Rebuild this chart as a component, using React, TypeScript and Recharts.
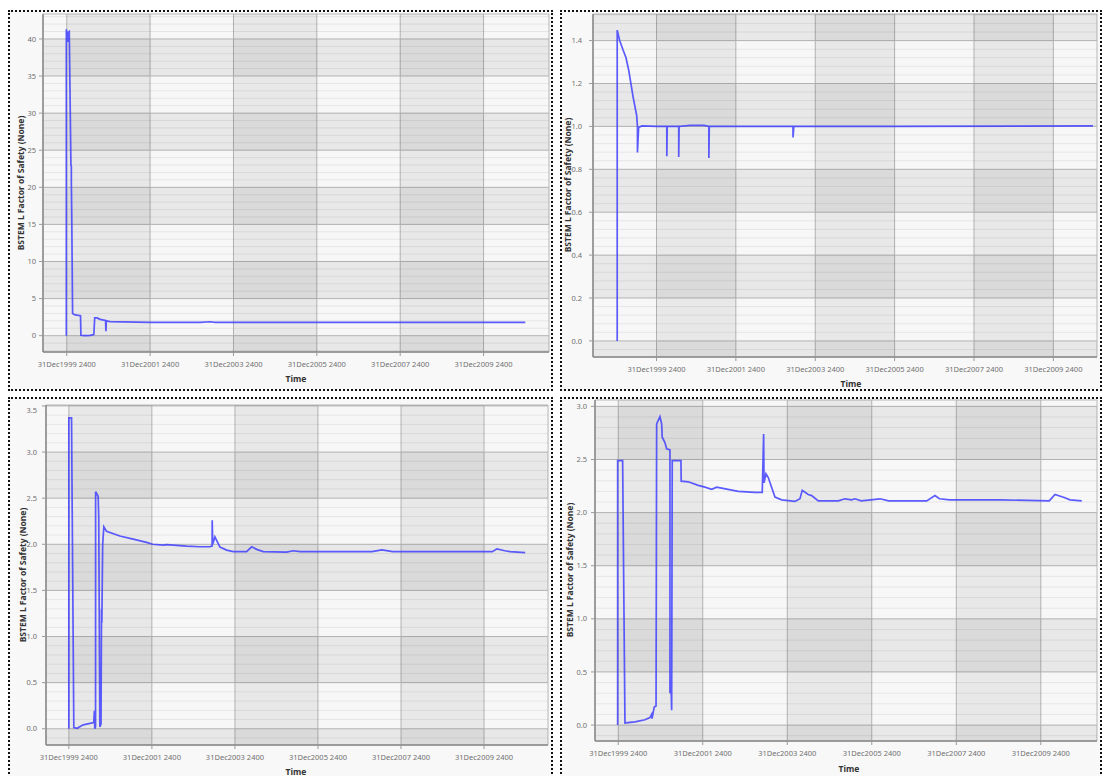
import React from "react";
import {
  LineChart,
  Line,
  XAxis,
  YAxis,
  CartesianGrid,
  ReferenceArea,
  ReferenceLine,
} from "recharts";

// time is stored as decimal years, 31Dec1999 2400 == 2000.0
const timeTicks = [2000, 2002, 2004, 2006, 2008, 2010];
const timeLabels = [
  "31Dec1999 2400",
  "31Dec2001 2400",
  "31Dec2003 2400",
  "31Dec2005 2400",
  "31Dec2007 2400",
  "31Dec2009 2400",
];

const p1Time = [
  1999.99, 1999.99, 2000.01, 2000.02, 2000.04, 2000.06, 2000.1, 2000.11, 2000.11, 2000.12,
  2000.14, 2000.2, 2000.33, 2000.34, 2000.44, 2000.56, 2000.65, 2000.67, 2000.73, 2000.8,
  2000.93, 2000.94, 2000.95, 2001.04, 2002.0, 2003.2, 2003.44, 2003.56, 2005.6, 2008.0,
  2010.4, 2011.0,
];
const p1Fos = [
  0, 41.3, 40.5, 39.6, 40.9, 41.0, 23.0, 22.8, 20.6, 16.0,
  3.0, 2.8, 2.7, 0.05, 0.0, 0.05, 0.15, 2.4, 2.4, 2.2,
  2.05, 0.6, 2.0, 1.9, 1.8, 1.8, 1.88, 1.8, 1.78, 1.78,
  1.78, 1.78,
];
const p1YTicks = [0, 5, 10, 15, 20, 25, 30, 35, 40];

const p2Time = [
  1999.01, 1999.01, 1999.07, 1999.16, 1999.23, 1999.3, 1999.41, 1999.5, 1999.52, 1999.52,
  1999.55, 1999.63, 2000.0, 2000.26, 2000.26, 2000.27, 2000.56, 2000.56, 2000.57, 2000.84,
  2001.2, 2001.32, 2001.32, 2001.33, 2002.0, 2003.44, 2003.44, 2003.46, 2006.0, 2011.0,
];
const p2Fos = [
  0, 1.449, 1.402, 1.355, 1.321, 1.262, 1.138, 1.052, 1.0, 0.878,
  0.995, 1.002, 1.0, 1.0, 0.861, 1.0, 1.0, 0.857, 1.0, 1.005,
  1.005, 1.0, 0.853, 1.0, 1.0, 1.0, 0.948, 1.0, 1.0, 1.002,
];
const p2YTicks = [0, 0.2, 0.4, 0.6, 0.8, 1.0, 1.2, 1.4];

const p3Time = [
  2000.0, 2000.0, 2000.065, 2000.12, 2000.2, 2000.345, 2000.6, 2000.615, 2000.625, 2000.643,
  2000.645, 2000.706, 2000.72, 2000.747, 2000.775, 2000.787, 2000.795, 2000.815, 2000.843, 2000.908,
  2001.229, 2001.549, 2001.872, 2002.017, 2002.272, 2002.354, 2002.836, 2003.157, 2003.398, 2003.45,
  2003.453, 2003.465, 2003.518, 2003.639, 2003.8, 2003.959, 2004.282, 2004.402, 2004.523, 2004.682,
  2005.246, 2005.405, 2005.566, 2007.3, 2007.54, 2007.8, 2009.18, 2010.2, 2010.31, 2010.5,
  2010.63, 2010.99,
];
const p3Fos = [
  0, 3.37, 3.37, 0.014, 0.005, 0.043, 0.068, 0.195, 0.0, 0.02,
  2.57, 2.52, 2.3, 0.02, 0.05, 1.3, 1.15, 2.0, 2.19, 2.14,
  2.09, 2.056, 2.02, 2.0, 1.99, 1.997, 1.98, 1.973, 1.975, 1.98,
  2.26, 2.0, 2.08, 1.97, 1.937, 1.92, 1.92, 1.973, 1.945, 1.92,
  1.915, 1.93, 1.92, 1.92, 1.94, 1.92, 1.92, 1.92, 1.95, 1.93,
  1.92, 1.91,
];
const p3YTicks = [0, 0.5, 1.0, 1.5, 2.0, 2.5, 3.0, 3.5];

const p4Time = [
  1999.986, 1999.986, 2000.104, 2000.159, 2000.395, 2000.632, 2000.75, 2000.79, 2000.8, 2000.852,
  2000.895, 2000.909, 2000.987, 2001.027, 2001.041, 2001.105, 2001.146, 2001.224, 2001.224, 2001.24,
  2001.255, 2001.264, 2001.278, 2001.484, 2001.49, 2001.657, 2001.893, 2002.052, 2002.211, 2002.329,
  2002.447, 2002.84, 2003.235, 2003.408, 2003.441, 2003.45, 2003.496, 2003.55, 2003.709, 2003.867,
  2004.182, 2004.3, 2004.355, 2004.497, 2004.578, 2004.734, 2005.207, 2005.366, 2005.524, 2005.602,
  2005.75, 2006.194, 2006.4, 2007.3, 2007.496, 2007.6, 2007.85, 2009.034, 2010.2, 2010.336,
  2010.57, 2010.69, 2010.97,
];
const p4Fos = [
  0, 2.49, 2.49, 0.02, 0.03, 0.05, 0.07, 0.1, 0.06, 0.17,
  0.18, 2.835, 2.904, 2.835, 2.71, 2.66, 2.6, 2.59, 0.3, 0.42,
  0.28, 0.14, 2.49, 2.49, 2.296, 2.29, 2.256, 2.24, 2.22, 2.24,
  2.23, 2.2, 2.19, 2.19, 2.74, 2.28, 2.365, 2.33, 2.146, 2.12,
  2.105, 2.13, 2.21, 2.17, 2.16, 2.11, 2.11, 2.13, 2.12, 2.13,
  2.11, 2.13, 2.11, 2.11, 2.16, 2.13, 2.12, 2.12, 2.11, 2.17,
  2.14, 2.12, 2.11,
];
const p4YTicks = [0, 0.5, 1.0, 1.5, 2.0, 2.5, 3.0];

const Y_TITLE = "BSTEM L Factor of Safety (None)";
const FONT = "'Noto Sans', 'DejaVu Sans', sans-serif";

interface PanelSpec {
  frame: [number, number, number, number]; // left, top, width, height
  plot: [number, number, number, number]; // left, top, right, bottom
  time: number[];
  fos: number[];
  xDomain: [number, number];
  yDomain: [number, number];
  yTicks: number[];
  digits: number;
  tickGap: number;
  xTitle: [number, number];
  yTitle: [number, number];
}

const panels: PanelSpec[] = [
  {
    frame: [8, 10, 545, 381],
    plot: [43, 14, 549, 352],
    time: p1Time,
    fos: p1Fos,
    xDomain: [1999.43, 2011.57],
    yDomain: [-2.2, 43.36],
    yTicks: p1YTicks,
    digits: 0,
    tickGap: 7,
    xTitle: [296, 379],
    yTitle: [21, 183],
  },
  {
    frame: [560, 10, 542, 381],
    plot: [593, 14, 1097, 357],
    time: p2Time,
    fos: p2Fos,
    xDomain: [1998.4, 2011.1],
    yDomain: [-0.075, 1.524],
    yTicks: p2YTicks,
    digits: 1,
    tickGap: 11,
    xTitle: [851, 384],
    yTitle: [568, 185],
  },
  {
    frame: [8, 397, 545, 400],
    plot: [46, 405, 548, 745],
    time: p3Time,
    fos: p3Fos,
    xDomain: [1999.45, 2011.54],
    yDomain: [-0.176, 3.51],
    yTicks: p3YTicks,
    digits: 1,
    tickGap: 9,
    xTitle: [296, 772],
    yTitle: [23, 575],
  },
  {
    frame: [560, 397, 542, 400],
    plot: [595, 400, 1097, 741],
    time: p4Time,
    fos: p4Fos,
    xDomain: [1999.45, 2011.33],
    yDomain: [-0.15, 3.06],
    yTicks: p4YTicks,
    digits: 1,
    tickGap: 8,
    xTitle: [849, 769],
    yTitle: [570, 570],
  },
];

function bands(lo: number, hi: number, ticks: number[]): [number, number][] {
  const edges = [lo, ...ticks.filter((t) => t > lo && t < hi), hi];
  return edges.slice(0, -1).map((a, i) => [a, edges[i + 1]] as [number, number]);
}

function Panel({ spec }: { spec: PanelSpec }) {
  const [pl, pt, pr, pb] = spec.plot;
  const yw = 40;
  const mTop = 8;
  const mRight = 3;
  const xh = 26;
  const left = pl - yw;
  const top = pt - mTop;
  const width = pr + mRight - left;
  const height = pb + xh - top;

  const rows = spec.time.map((t, i) => ({ t, v: spec.fos[i] }));
  const step = spec.yTicks[1] - spec.yTicks[0];
  const minor = step / 5;

  const colBands = bands(spec.xDomain[0], spec.xDomain[1], timeTicks).filter(
    ([a, b]) => Math.floor(((a + b) / 2 - 2000) / 2) % 2 === 0
  );
  const rowBands = bands(spec.yDomain[0], spec.yDomain[1], spec.yTicks).filter(
    ([a, b]) => Math.abs(Math.floor((a + b) / 2 / step)) % 2 === 1
  );
  const minorLines: number[] = [];
  for (let k = Math.ceil(spec.yDomain[0] / minor); k * minor <= spec.yDomain[1]; k++) {
    if (k % 5 !== 0) minorLines.push(+(k * minor).toFixed(4));
  }

  return (
    <>
      <div
        style={{
          position: "absolute",
          left: spec.frame[0],
          top: spec.frame[1],
          width: spec.frame[2],
          height: spec.frame[3],
          border: "2px dotted #111",
          background: "#f8f8f8",
          boxSizing: "border-box",
        }}
      />
      <div style={{ position: "absolute", left, top }}>
        <LineChart width={width} height={height} data={rows} margin={{ top: mTop, right: mRight, left: 0, bottom: 0 }}>
          <CartesianGrid fill="#f7f7f7" stroke="#b8b8b8" />
          {colBands.map(([a, b]) => (
            <ReferenceArea key={`c${a}`} x1={a} x2={b} fill="#000" fillOpacity={0.057} stroke="none" ifOverflow="hidden" />
          ))}
          {rowBands.map(([a, b]) => (
            <ReferenceArea key={`r${a}`} y1={a} y2={b} fill="#000" fillOpacity={0.057} stroke="none" ifOverflow="hidden" />
          ))}
          {minorLines.map((v) => (
            <ReferenceLine key={`m${v}`} y={v} stroke="#000" strokeOpacity={0.07} />
          ))}
          <XAxis
            type="number"
            dataKey="t"
            domain={spec.xDomain}
            allowDataOverflow
            ticks={timeTicks}
            interval={0}
            height={xh}
            tickSize={4}
            tickMargin={6}
            tickLine={{ stroke: "#9a9a9a" }}
            axisLine={{ stroke: "#8a8a8a", strokeWidth: 1.5 }}
            tick={{ fontSize: 7.5, fill: "#707070", fontFamily: FONT }}
            tickFormatter={(v: number) => timeLabels[timeTicks.indexOf(v)] ?? ""}
          />
          <YAxis
            type="number"
            domain={spec.yDomain}
            allowDataOverflow
            ticks={spec.yTicks}
            interval={0}
            width={yw}
            tickSize={4}
            tickMargin={spec.tickGap - 4}
            tickLine={{ stroke: "#9a9a9a" }}
            axisLine={{ stroke: "#8a8a8a", strokeWidth: 1.5 }}
            // eslint-disable-next-line @typescript-eslint/no-explicit-any
            tick={(p: any) => {
              const y = p.y < mTop + 5 ? mTop + 5.5 : p.y;
              return (
                <text x={p.x} y={y} dy="0.35em" textAnchor="end" fontSize={7.5} fill="#707070" fontFamily={FONT}>
                  {Number(p.payload.value).toFixed(spec.digits)}
                </text>
              );
            }}
          />
          <Line
            type="linear"
            dataKey="v"
            stroke="#4040ff"
            strokeOpacity={0.85}
            strokeWidth={1.7}
            dot={false}
            activeDot={false}
            isAnimationActive={false}
          />
        </LineChart>
      </div>
      <div
        style={{
          position: "absolute",
          left: spec.xTitle[0],
          top: spec.xTitle[1],
          transform: "translate(-50%, -50%)",
          fontSize: 8.5,
          fontWeight: 700,
          color: "#333",
          whiteSpace: "nowrap",
        }}
      >
        Time
      </div>
      <div
        style={{
          position: "absolute",
          left: spec.yTitle[0],
          top: spec.yTitle[1],
          transform: "translate(-50%, -50%) rotate(-90deg)",
          fontSize: 8.5,
          fontWeight: 700,
          color: "#333",
          whiteSpace: "nowrap",
        }}
      >
        {Y_TITLE}
      </div>
    </>
  );
}

export default function App() {
  return (
    <div
      style={{
        position: "absolute",
        left: 0,
        top: 0,
        width: 1103,
        height: 776,
        overflow: "hidden",
        background: "#fff",
        fontFamily: FONT,
        lineHeight: 1,
      }}
    >
      {panels.map((p, i) => (
        <Panel key={i} spec={p} />
      ))}
    </div>
  );
}
